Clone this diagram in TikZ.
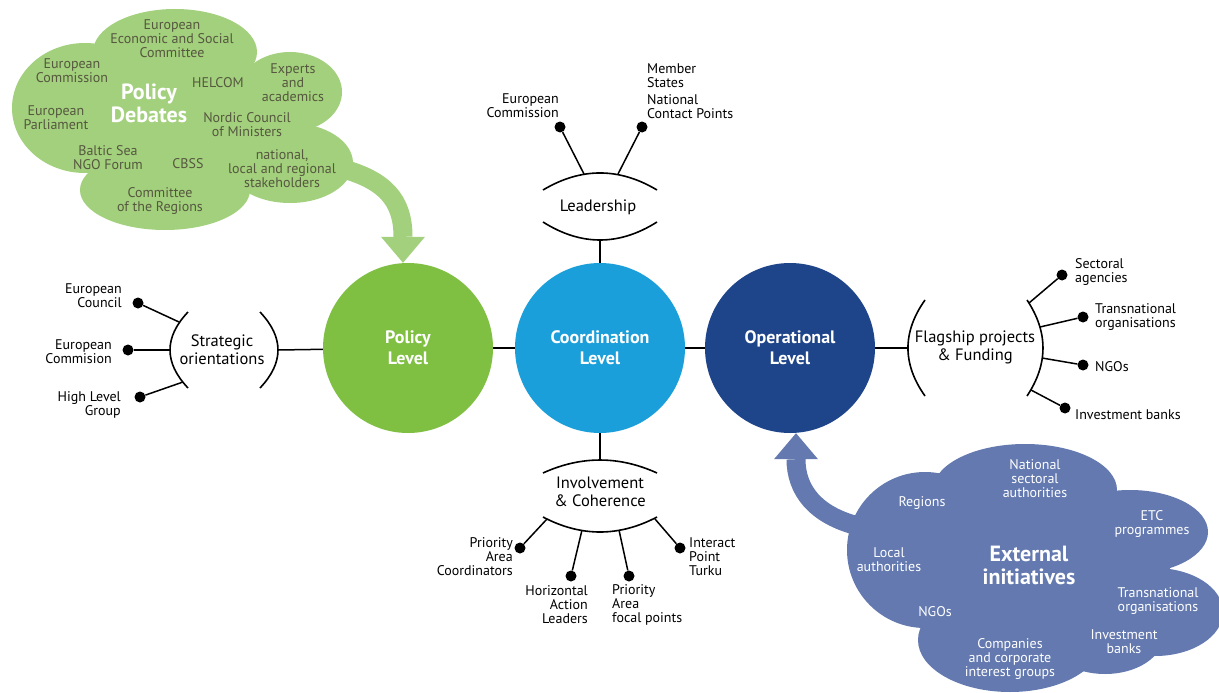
\documentclass[tikz,border=0pt]{standalone}
\usepackage{fontspec}
\setmainfont{PT Sans}
\usetikzlibrary{arrows.meta, positioning}

\definecolor{policygreen}{HTML}{7FBF42}
\definecolor{coordblue}{HTML}{1B9FDA}
\definecolor{operblue}{HTML}{1E448A}
\definecolor{debategreen}{HTML}{A3D07D}
\definecolor{initblue}{HTML}{6379AF}
\definecolor{debatetext}{HTML}{55573F}

\begin{document}
\begin{tikzpicture}[x=1pt, y=-1pt,
  levelcircle/.style={circle, minimum size=170pt, inner sep=0pt, align=center, text=white, font=\bfseries\fontsize{18}{21}\selectfont},
  hub/.style={align=center, inner sep=0pt, font=\fontsize{16.5}{18}\selectfont},
  blob/.style={circle, fill=black, inner sep=0pt, minimum size=11pt},
  itemtext/.style={inner sep=0pt, font=\fontsize{14}{14}\selectfont},
  spoke/.style={line width=1.5pt},
  brace/.style={line width=1.6pt},
  cloudtext/.style={align=center, inner sep=0pt, font=\fontsize{14}{14}\selectfont},
  cloudtitle/.style={align=center, inner sep=0pt, text=white, font=\bfseries\fontsize{22}{23}\selectfont},
  bigarrow/.style={line width=19pt, -{Triangle[width=44pt, length=26pt, line width=0pt]}}
]

\useasboundingbox (0,0) rectangle (1219,693);
\fill[white] (0,0) rectangle (1219,693);

% the three levels
\node[levelcircle, fill=policygreen] (pol) at (408,348) {Policy\\Level};
\node[levelcircle, fill=coordblue] (coord) at (600,348) {Coordination\\Level};
\node[levelcircle, fill=operblue] (oper) at (790,348) {Operational\\Level};

\draw[spoke] (pol) -- (coord);
\draw[spoke] (coord) -- (oper);

% leadership
\node[hub] (lead) at (598,207) {Leadership};
\draw[brace] (543,190) .. controls (581,167.3) and (619,167.3) .. (657,190);
\draw[brace] (543,222) .. controls (581,246) and (619,246) .. (657,222);
\coordinate (leadb) at (600,240);
\coordinate (lead-ec) at (584,174);
\coordinate (lead-ms) at (618,174);
\draw[spoke] (coord) -- (leadb);
\node[blob] (d-ec) at (560,127) {};
\node[blob] (d-ms) at (642,127) {};
\draw[spoke] (d-ec) -- (lead-ec);
\draw[spoke] (d-ms) -- (lead-ms);
\node[itemtext, align=right, anchor=east] (t-ec) at (559,106) {European\\Commission};
\node[itemtext, align=left, anchor=west] (t-ms) at (647,91) {Member\\States\\[3pt]National\\Contact Points};

% strategic orientations
\node[hub] (strat) at (222,350) {Strategic\\orientations};
\draw[brace] (188,312) .. controls (164,337.3) and (164,362.7) .. (188,388);
\draw[brace] (260,312) .. controls (284,337.3) and (284,362.7) .. (260,388);
\coordinate (stratr) at (278,350);
\coordinate (strat-co) at (179,322);
\coordinate (strat-cm) at (170,350);
\coordinate (strat-hl) at (183,382);
\draw[spoke] (stratr) -- (pol);
\node[blob] (d-co) at (138,303) {};
\node[blob] (d-cm) at (128,350) {};
\node[blob] (d-hl) at (140,397) {};
\draw[spoke] (d-co) -- (strat-co);
\draw[spoke] (d-cm) -- (strat-cm);
\draw[spoke] (d-hl) -- (strat-hl);
\node[itemtext, align=right, anchor=east] (t-co) at (122,296) {European\\Council};
\node[itemtext, align=right, anchor=east] (t-cm) at (112,352) {European\\Commision};
\node[itemtext, align=right, anchor=east] (t-hl) at (121,405) {High Level\\Group};

% flagship projects
\node[hub] (flag) at (975,347) {Flagship projects\\\& Funding};
\draw[brace] (925,300) .. controls (902.3,332) and (902.3,364) .. (925,396);
\draw[brace] (1027,300) .. controls (1048.3,332) and (1048.3,364) .. (1027,396);
\coordinate (flagl) at (908,348);
\coordinate (flag-sa) at (1029,303);
\coordinate (flag-to) at (1040,327);
\coordinate (flag-ng) at (1042,358);
\coordinate (flag-ib) at (1031,390);
\draw[spoke] (oper) -- (flagl);
\node[blob] (d-sa) at (1062,275) {};
\node[blob] (d-to) at (1083,317) {};
\node[blob] (d-ng) at (1083,365) {};
\node[blob] (d-ib) at (1065,408) {};
\draw[spoke] (d-sa) -- (flag-sa);
\draw[spoke] (d-to) -- (flag-to);
\draw[spoke] (d-ng) -- (flag-ng);
\draw[spoke] (d-ib) -- (flag-ib);
\node[itemtext, align=left, anchor=west] (t-sa) at (1075,272) {Sectoral\\agencies};
\node[itemtext, align=left, anchor=west] (t-to) at (1095,317) {Transnational\\organisations};
\node[itemtext, anchor=west] (t-ng) at (1095,367) {NGOs};
\node[itemtext, anchor=west] (t-ib) at (1075,415) {Investment banks};

% involvement
\node[hub] (inv) at (600,492) {Involvement\\\& Coherence};
\draw[brace] (543,473) .. controls (581,455.7) and (619,455.7) .. (657,473);
\draw[brace] (543,517) .. controls (581,537) and (619,537) .. (657,517);
\coordinate (invt) at (600,460);
\coordinate (inv-pc) at (547,519);
\coordinate (inv-hl) at (582,530);
\coordinate (inv-fp) at (619,530);
\coordinate (inv-ip) at (655,519);
\draw[spoke] (coord) -- (invt);
\node[blob] (d-pc) at (520,548) {};
\node[blob] (d-hal) at (571,576) {};
\node[blob] (d-fp) at (629,576) {};
\node[blob] (d-ip) at (680,548) {};
\draw[spoke] (d-pc) -- (inv-pc);
\draw[spoke] (d-hal) -- (inv-hl);
\draw[spoke] (d-fp) -- (inv-fp);
\draw[spoke] (d-ip) -- (inv-ip);
\node[itemtext, align=right, anchor=east] (t-pc) at (513,557) {Priority\\Area\\Coordinators};
\node[itemtext, align=right, anchor=east] (t-hal) at (588,605) {Horizontal\\Action\\Leaders};
\node[itemtext, align=left, anchor=west] (t-fp) at (612,605) {Priority\\Area\\focal points};
\node[itemtext, align=left, anchor=west] (t-ip) at (689,557) {Interact\\Point\\Turku};

% policy debates cloud
\coordinate (debout) at (340,168);
\draw[bigarrow, debategreen] (debout) .. controls (385,180) and (403,200) .. ([xshift=-5pt]pol.north);
\fill[debategreen] (85,108) ellipse [x radius=73, y radius=65];
\fill[debategreen] (175,52) ellipse [x radius=82, y radius=43];
\fill[debategreen] (290,92) ellipse [x radius=52, y radius=40];
\fill[debategreen] (290,163) ellipse [x radius=63, y radius=40];
\fill[debategreen] (165,190) ellipse [x radius=85, y radius=40];
\fill[debategreen] (185,125) ellipse [x radius=120, y radius=65];
\begin{scope}[every node/.append style={text=debatetext}]
\node[cloudtext] (eesc) at (172,39) {European\\Economic and Social\\Committee};
\node[cloudtext] (ecomm) at (72,71) {European\\Commission};
\node[cloudtext] (helcom) at (218,83) {HELCOM};
\node[cloudtext] (experts) at (293,83) {Experts\\and\\academics};
\node[cloudtext] (parl) at (56,118) {European\\Parliament};
\node[cloudtext] (nordic) at (247,125) {Nordic Council\\of Ministers};
\node[cloudtext] (bsngo) at (108,158) {Baltic Sea\\NGO Forum};
\node[cloudtext] (cbss) at (188,164) {CBSS};
\node[cloudtext] (stake) at (282,169) {national,\\local and regional\\stakeholders};
\node[cloudtext] (cor) at (160,201) {Committee\\of the Regions};
\end{scope}
\node[cloudtitle] (debates) at (149,103) {Policy\\Debates};

% external initiatives cloud
\coordinate (extout) at (858,526);
\draw[bigarrow, initblue] (extout) .. controls (815,515) and (796,490) .. ([xshift=6pt]oper.south);
\fill[initblue] (1025,490) ellipse [x radius=92, y radius=46];
\fill[initblue] (925,550) ellipse [x radius=78, y radius=78];
\fill[initblue] (1130,532) ellipse [x radius=78, y radius=42];
\fill[initblue] (1155,612) ellipse [x radius=68, y radius=44];
\fill[initblue] (1010,640) ellipse [x radius=92, y radius=52];
\fill[initblue] (1105,636) ellipse [x radius=58, y radius=38];
\fill[initblue] (1040,565) ellipse [x radius=130, y radius=75];
\begin{scope}[every node/.append style={text=white}]
\node[cloudtext] (natsec) at (1035,479) {National\\sectoral\\authorities};
\node[cloudtext] (regions) at (922,503) {Regions};
\node[cloudtext] (etc) at (1152,524) {ETC\\programmes};
\node[cloudtext] (local) at (889,560) {Local\\authorities};
\node[cloudtext] (ngos) at (935,612) {NGOs};
\node[cloudtext] (transorg) at (1158,601) {Transnational\\organisations};
\node[cloudtext] (invbank) at (1124,642) {Investment\\banks};
\node[cloudtext] (comp) at (1010,659) {Companies\\and corporate\\interest groups};
\end{scope}
\node[cloudtitle] (extin) at (1029,565) {External\\initiatives};

\end{tikzpicture}
\end{document}
